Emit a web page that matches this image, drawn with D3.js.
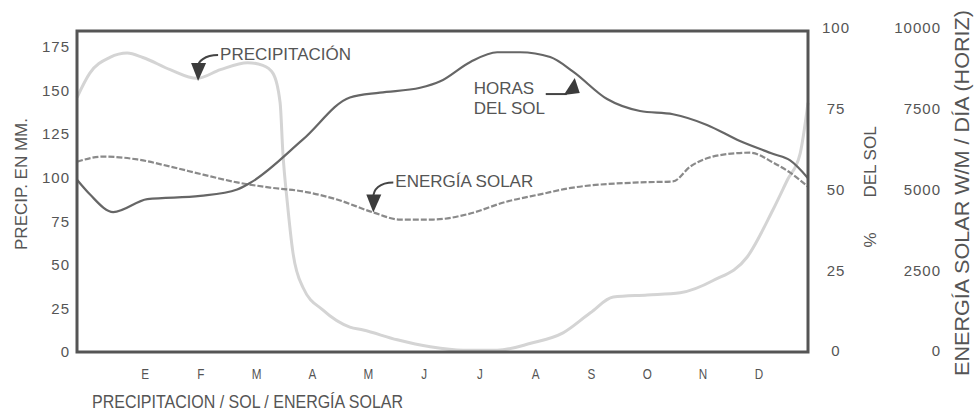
<!DOCTYPE html>
<html>
<head>
<meta charset="utf-8">
<script src="https://cdn.jsdelivr.net/npm/d3@7"></script>
<style>
  body { margin: 0; background: #fff; }
  svg text { font-family: "Liberation Sans", Arial, sans-serif; fill: #555; }
</style>
</head>
<body>
<svg id="chart"></svg>
<script>
// --- DATOS ---
const meses = ["E", "F", "M", "A", "M", "J", "J", "A", "S", "O", "N", "D"];
const ticksPrecip = [0, 25, 50, 75, 100, 125, 150, 175];
const ticksSol = [0, 25, 50, 75, 100];
const ticksEnergia = [0, 2500, 5000, 7500, 10000];

// precipitación (mm) -- posición en meses (E = 1)
const precipMes = [-0.22, 0.01, 0.37, 0.68, 0.96, 1.45, 1.93, 2.35, 2.84, 3.11, 3.29, 3.42, 3.47, 3.55, 3.65, 3.83, 4.19, 4.67, 4.91, 5.52, 6.11, 6.7, 7.31, 7.91, 8.49, 8.98, 9.39, 10.0, 10.59, 11.18, 11.79, 12.25, 12.51, 12.74, 12.88];
const precipMM = [146, 160, 169, 171.5, 169, 162, 157, 162, 166, 164.5, 160, 143, 114, 85.5, 57, 37, 24, 14.3, 12.6, 7, 3, 1, 1, 5, 11, 22.5, 31.5, 32.7, 34, 41, 54.5, 81.5, 98.7, 114, 143];

// horas del sol (%)
const solMes = [-0.22, 0.01, 0.43, 1.04, 1.99, 2.65, 2.88, 3.83, 4.67, 5.21, 5.93, 6.29, 6.83, 7.31, 7.72, 8.26, 8.67, 9.28, 9.87, 10.46, 11.07, 11.66, 12.26, 12.56, 12.88];
const solPct = [53, 48.5, 43, 47, 48, 50, 52, 65.5, 78.5, 80, 81.5, 83.5, 89.5, 92.5, 92.5, 91, 86.5, 78, 74.3, 73.3, 70, 65, 61, 59, 53.5];

// energía solar (W/m / día)
const energiaMes = [-0.22, 0.25, 0.86, 1.45, 2.04, 2.65, 3.24, 3.83, 4.44, 5.09, 5.57, 6.16, 6.77, 7.49, 8.08, 8.67, 9.87, 10.46, 10.77, 11.36, 11.84, 12.26, 12.56, 12.88];
const energiaW = [5860, 6020, 5930, 5710, 5460, 5220, 5060, 4940, 4690, 4290, 4070, 4070, 4230, 4630, 4850, 5060, 5220, 5250, 5710, 6080, 6140, 5830, 5520, 5090];

const width = 979, height = 417;
const svg = d3.select("#chart").attr("width", width).attr("height", height);

// --- ESCALAS ---
const x = d3.scaleLinear().domain([-0.22, 12.88]).range([77, 808]);
const yPrecip = d3.scaleLinear().domain([0, 175]).range([352, 47]);
const ySol = d3.scaleLinear().domain([0, 100]).range([351, 28]);
const yEnergia = d3.scaleLinear().domain([0, 10000]).range([351, 28]);

const linea = (xs, ys, yScale) => d3.line()
  .x((d, i) => x(xs[i]))
  .y(d => yScale(d))
  .curve(d3.curveMonotoneX)(ys);

// --- CURVAS ---
svg.append("path")
  .attr("d", linea(precipMes, precipMM, yPrecip))
  .attr("fill", "none").attr("stroke", "#d4d4d4").attr("stroke-width", 3);

svg.append("path")
  .attr("d", linea(energiaMes, energiaW, yEnergia))
  .attr("fill", "none").attr("stroke", "#8a8a8a").attr("stroke-width", 2.2)
  .attr("stroke-dasharray", "6,2");

svg.append("path")
  .attr("d", linea(solMes, solPct, ySol))
  .attr("fill", "none").attr("stroke", "#666").attr("stroke-width", 2.2);

// --- MARCO ---
svg.append("rect")
  .attr("x", 77).attr("y", 31).attr("width", 731).attr("height", 321)
  .attr("fill", "none").attr("stroke", "#555").attr("stroke-width", 3);

// --- EJES ---
const estiloTicks = sel => sel.selectAll("text")
  .attr("font-size", 15).attr("letter-spacing", 1).attr("fill", "#505050")
  .style("font-family", "'Liberation Sans', Arial, sans-serif");

const ejeIzq = d3.axisLeft(yPrecip).tickValues(ticksPrecip).tickSize(0).tickPadding(7);
svg.append("g").attr("transform", "translate(77,0)").call(ejeIzq)
  .call(g => g.select(".domain").remove())
  .call(estiloTicks);

const ejeSol = d3.axisRight(ySol).tickValues(ticksSol).tickSize(0).tickPadding(0);
svg.append("g").attr("transform", "translate(836,0)").call(ejeSol)
  .call(g => g.select(".domain").remove())
  .call(estiloTicks)
  .selectAll("text").attr("text-anchor", "middle");

const ejeEnergia = d3.axisLeft(yEnergia).tickValues(ticksEnergia).tickSize(0).tickPadding(0)
  .tickFormat(d3.format("d"));
svg.append("g").attr("transform", "translate(941,0)").call(ejeEnergia)
  .call(g => g.select(".domain").remove())
  .call(estiloTicks);

// meses (letra estrecha)
svg.append("g").selectAll("text")
  .data(meses)
  .enter().append("text")
  .attr("transform", (d, i) => `translate(${x(i + 1)},379) scale(0.78,1)`)
  .attr("text-anchor", "middle")
  .attr("font-size", 15)
  .text(d => d);

// títulos
svg.append("text")
  .attr("x", 92).attr("y", 408)
  .attr("font-size", 19)
  .attr("textLength", 311)
  .attr("lengthAdjust", "spacingAndGlyphs")
  .text("PRECIPITACION / SOL / ENERGÍA SOLAR");

svg.append("text")
  .attr("transform", "translate(27,184) rotate(-90)")
  .attr("text-anchor", "middle")
  .attr("font-size", 17)
  .text("PRECIP. EN MM.");

svg.append("text")
  .attr("transform", "translate(876,162) rotate(-90)")
  .attr("text-anchor", "middle")
  .attr("font-size", 17)
  .text("DEL SOL");

svg.append("text")
  .attr("transform", "translate(876,240) rotate(-90)")
  .attr("text-anchor", "middle")
  .attr("font-size", 17)
  .text("%");

svg.append("text")
  .attr("transform", "translate(969,193) rotate(-90)")
  .attr("text-anchor", "middle")
  .attr("font-size", 20)
  .attr("textLength", 366)
  .attr("lengthAdjust", "spacingAndGlyphs")
  .text("ENERGÍA SOLAR W/M / DÍA (HORIZ)");

// --- ANOTACIONES ---
const notas = [
  { texto: ["PRECIPITACIÓN"], mes: 1.95, y: yPrecip(156), tx: 22, ty: -26, tipo: "curva" },
  { texto: ["ENERGÍA SOLAR"], mes: 5.09, y: yEnergia(4320), tx: 22, ty: -30, tipo: "curva" },
  { texto: ["HORAS", "DEL SOL"], mes: 8.7, y: ySol(84.5), tx: -101, ty: 16, tipo: "recta" }
];

notas.forEach(n => {
  const px = x(n.mes), py = n.y;
  const g = svg.append("g");
  if (n.tipo === "curva") {
    g.append("path")
      .attr("d", `M${px + n.tx - 2},${py + n.ty + 1} C${px + 6},${py + n.ty + 1} ${px},${py + n.ty + 8} ${px},${py - 14}`)
      .attr("fill", "none").attr("stroke", "#444").attr("stroke-width", 2);
    g.append("path")
      .attr("d", `M${px - 7},${py - 17} L${px + 8},${py - 17} L${px},${py + 1} Z`)
      .attr("fill", "#3c3c3c");
    g.append("text")
      .attr("x", px + n.tx).attr("y", py + n.ty + 6)
      .attr("font-size", 17)
      .text(n.texto[0]);
  } else {
    g.append("path")
      .attr("d", `M${px - 29},${py + 16} L${px - 8},${py + 16}`)
      .attr("fill", "none").attr("stroke", "#444").attr("stroke-width", 2);
    g.append("path")
      .attr("d", `M${px - 11},${py + 17} L${px + 5},${py + 15} L${px},${py} Z`)
      .attr("fill", "#3c3c3c");
    n.texto.forEach((t, i) => {
      g.append("text")
        .attr("x", px + n.tx).attr("y", py + n.ty + i * 20)
        .attr("font-size", 17)
        .text(t);
    });
  }
});
</script>
</body>
</html>
